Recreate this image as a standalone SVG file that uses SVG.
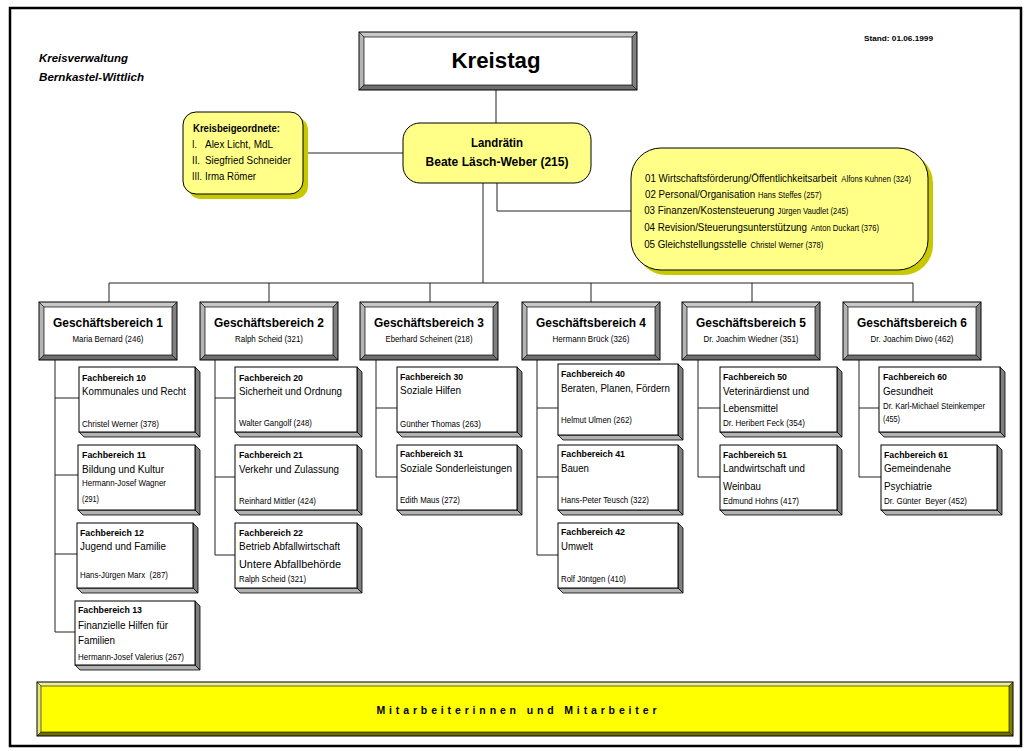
<svg xmlns="http://www.w3.org/2000/svg" xmlns:xlink="http://www.w3.org/1999/xlink" width="1024" height="751" viewBox="0 0 1024 751">
<style>
.ln{stroke:#222;stroke-width:1;fill:none}
.s{font-family:"Liberation Sans",Arial,sans-serif;fill:#000}
.n{font-family:"Liberation Sans Narrow","Arial Narrow","Liberation Sans",Arial,sans-serif;fill:#000}
.st{font-family:"Liberation Sans",Arial,sans-serif;fill:#000}
.b{font-weight:bold}
.c{text-anchor:middle}
.fbt{font-family:"Liberation Sans",Arial,sans-serif;font-weight:bold;font-size:9.5px}
.fbn{font-family:"Liberation Sans Narrow","Arial Narrow","Liberation Sans",Arial,sans-serif;font-size:11.5px}
.fbp{font-family:"Liberation Sans Narrow","Arial Narrow","Liberation Sans",Arial,sans-serif;font-size:9px}
.front{fill:#fff;stroke:#000;stroke-width:1}
.side{fill:#7f7f7f;stroke:#000;stroke-width:0.8}
.bot{fill:#b2b2b2;stroke:#000;stroke-width:0.8}
.yel{fill:#ffff88;stroke:#000;stroke-width:1}
.shd{fill:#c8c800}
</style>
<defs>
<g id="gbbox">
<polygon points="0,0 138,0 133,5 5,5" fill="#c8c8c8"/>
<polygon points="0,0 5,5 5,53 0,58" fill="#b4b4b4"/>
<polygon points="138,0 138,58 133,53 133,5" fill="#808080"/>
<polygon points="0,58 138,58 133,53 5,53" fill="#6e6e6e"/>
<rect x="5" y="5" width="128" height="48" fill="#fff" stroke="#000" stroke-width="0.7"/>
<rect x="0" y="0" width="138" height="58" fill="none" stroke="#000" stroke-width="1"/>
<path d="M0,0L5,5M138,0L133,5M0,58L5,53M138,58L133,53" stroke="#000" stroke-width="0.7"/>
</g>
</defs>

<rect x="10" y="8" width="1011" height="738" fill="#fff" stroke="#000" stroke-width="2.5"/>

<text class="s b" x="39" y="62" font-size="11.5" font-style="italic" textLength="89" lengthAdjust="spacingAndGlyphs">Kreisverwaltung</text>
<text class="s b" x="39" y="81" font-size="11.5" font-style="italic" textLength="105" lengthAdjust="spacingAndGlyphs">Bernkastel-Wittlich</text>
<text class="s b" x="864" y="41" font-size="8" textLength="69" lengthAdjust="spacingAndGlyphs">Stand: 01.06.1999</text>

<g id="connectors">
<path class="ln" d="M496,90V123"/>
<path class="ln" d="M303,153H403"/>
<path class="ln" d="M483,183V283"/>
<path class="ln" d="M497,183V211H631"/>
<path class="ln" d="M109,283H913"/>
<path class="ln" d="M109,283V302M269,283V302M430,283V302M591,283V302M752,283V302M913,283V302"/>
<path class="ln" d="M55,360V632M55,398H79M55,475H78M55,554H77M55,632H75"/>
<path class="ln" d="M215,360V555M215,398H235M215,477H235M215,555H235"/>
<path class="ln" d="M376,360V477M376,408H397M376,477H397"/>
<path class="ln" d="M537,360V555M537,408H558M537,477H558M537,555H558"/>
<path class="ln" d="M698,360V477M698,408H720M698,477H720"/>
<path class="ln" d="M859,360V477M859,408H879M859,477H881"/>
</g>

<g id="kreistag">
<polygon points="359,32 637,32 632,37 364,37" fill="#c8c8c8"/>
<polygon points="359,32 364,37 364,85 359,90" fill="#b4b4b4"/>
<polygon points="637,32 637,90 632,85 632,37" fill="#808080"/>
<polygon points="359,90 637,90 632,85 364,85" fill="#6e6e6e"/>
<rect x="364" y="37" width="268" height="48" fill="#fff" stroke="#000" stroke-width="0.7"/>
<rect x="359" y="32" width="278" height="58" fill="none" stroke="#000"/>
<path d="M359,32L364,37M637,32L632,37M359,90L364,85M637,90L632,85" stroke="#000" stroke-width="0.7"/>
<text class="s b c" x="496" y="68" font-size="22" textLength="89" lengthAdjust="spacingAndGlyphs">Kreistag</text>
</g>

<g id="kreisbeigeordnete">
<rect class="shd" x="188" y="117" width="120" height="82" rx="13"/>
<rect class="yel" x="183" y="112" width="120" height="82" rx="13"/>
<text class="n b" x="193" y="132" font-size="10.5" textLength="87" lengthAdjust="spacingAndGlyphs">Kreisbeigeordnete:</text>
<text class="n" x="192" y="148" font-size="11" textLength="5" lengthAdjust="spacingAndGlyphs">I.</text>
<text class="n" x="205" y="148" font-size="11" textLength="68" lengthAdjust="spacingAndGlyphs">Alex Licht, MdL</text>
<text class="n" x="192" y="164" font-size="11" textLength="8" lengthAdjust="spacingAndGlyphs">II.</text>
<text class="n" x="205" y="164" font-size="11" textLength="86" lengthAdjust="spacingAndGlyphs">Siegfried Schneider</text>
<text class="n" x="192" y="180" font-size="11" textLength="10" lengthAdjust="spacingAndGlyphs">III.</text>
<text class="n" x="205" y="180" font-size="11" textLength="51" lengthAdjust="spacingAndGlyphs">Irma Römer</text>
</g>

<g id="landraetin">
<rect class="yel" x="403" y="123" width="188" height="60" rx="17"/>
<text class="s b c" x="497" y="147" font-size="12.5" textLength="52" lengthAdjust="spacingAndGlyphs">Landrätin</text>
<text class="s b c" x="497" y="166" font-size="12.5" textLength="143" lengthAdjust="spacingAndGlyphs">Beate Läsch-Weber (215)</text>
</g>

<g id="stab">
<rect class="shd" x="636" y="153" width="297" height="122" rx="30"/>
<rect class="yel" x="631" y="148" width="297" height="122" rx="30"/>
<g transform="translate(645,0) scale(0.85,1)">
<text class="st" x="0" y="182" font-size="11.5">01 Wirtschaftsförderung/Öffentlichkeitsarbeit</text>
<text class="st" x="231" y="182" font-size="9">Alfons Kuhnen (324)</text>
<text class="st" x="0" y="198" font-size="11.5">02 Personal/Organisation</text>
<text class="st" x="133" y="198" font-size="9">Hans Steffes (257)</text>
<text class="st" x="-1" y="214" font-size="11.5">03 Finanzen/Kostensteuerung</text>
<text class="st" x="156" y="214" font-size="9">Jürgen Vaudlet (245)</text>
<text class="st" x="-1" y="231" font-size="11.5">04 Revision/Steuerungsunterstützung</text>
<text class="st" x="195" y="231" font-size="9">Anton Duckart (376)</text>
<text class="st" x="-1" y="248" font-size="11.5">05 Gleichstellungsstelle</text>
<text class="st" x="124" y="248" font-size="9">Christel Werner (378)</text>
</g>
</g>

<g id="gb1"><use xlink:href="#gbbox" x="39" y="302"/>
<text class="s b c" x="108" y="327" font-size="12" textLength="110" lengthAdjust="spacingAndGlyphs">Geschäftsbereich 1</text>
<text class="n c" x="108" y="342" font-size="9.5" textLength="71" lengthAdjust="spacingAndGlyphs">Maria Bernard (246)</text></g>
<g id="gb2"><use xlink:href="#gbbox" x="200" y="302"/>
<text class="s b c" x="269" y="327" font-size="12" textLength="110" lengthAdjust="spacingAndGlyphs">Geschäftsbereich 2</text>
<text class="n c" x="269" y="342" font-size="9.5" textLength="68" lengthAdjust="spacingAndGlyphs">Ralph Scheid (321)</text></g>
<g id="gb3"><use xlink:href="#gbbox" x="360" y="302"/>
<text class="s b c" x="429" y="327" font-size="12" textLength="110" lengthAdjust="spacingAndGlyphs">Geschäftsbereich 3</text>
<text class="n c" x="429" y="342" font-size="9.5" textLength="87" lengthAdjust="spacingAndGlyphs">Eberhard Scheinert (218)</text></g>
<g id="gb4"><use xlink:href="#gbbox" x="522" y="302"/>
<text class="s b c" x="591" y="327" font-size="12" textLength="110" lengthAdjust="spacingAndGlyphs">Geschäftsbereich 4</text>
<text class="n c" x="591" y="342" font-size="9.5" textLength="77" lengthAdjust="spacingAndGlyphs">Hermann Brück (326)</text></g>
<g id="gb5"><use xlink:href="#gbbox" x="682" y="302"/>
<text class="s b c" x="751" y="327" font-size="12" textLength="110" lengthAdjust="spacingAndGlyphs">Geschäftsbereich 5</text>
<text class="n c" x="751" y="342" font-size="9.5" textLength="95" lengthAdjust="spacingAndGlyphs">Dr. Joachim Wiedner (351)</text></g>
<g id="gb6"><use xlink:href="#gbbox" x="843" y="302"/>
<text class="s b c" x="912" y="327" font-size="12" textLength="110" lengthAdjust="spacingAndGlyphs">Geschäftsbereich 6</text>
<text class="n c" x="912" y="342" font-size="9.5" textLength="83" lengthAdjust="spacingAndGlyphs">Dr. Joachim Diwo (462)</text></g>

<g id="fb10">
<polygon class="side" points="195,367 200,372 200,437 195,432"/><polygon class="bot" points="79,432 195,432 200,437 84,437"/><rect class="front" x="79" y="367" width="116" height="65"/>
<text class="fbt" x="82" y="381" textLength="64" lengthAdjust="spacingAndGlyphs">Fachbereich 10</text>
<text class="fbn" x="82" y="395" textLength="104" lengthAdjust="spacingAndGlyphs">Kommunales und Recht</text>
<text class="fbp" x="82" y="427" textLength="77" lengthAdjust="spacingAndGlyphs">Christel Werner (378)</text>
</g>
<g id="fb11">
<polygon class="side" points="195,445 200,450 200,515 195,510"/><polygon class="bot" points="78,510 195,510 200,515 83,515"/><rect class="front" x="78" y="445" width="117" height="65"/>
<text class="fbt" x="82" y="458" textLength="64" lengthAdjust="spacingAndGlyphs">Fachbereich 11</text>
<text class="fbn" x="82" y="473" textLength="82" lengthAdjust="spacingAndGlyphs">Bildung und Kultur</text>
<text class="fbp" x="82" y="486" textLength="84" lengthAdjust="spacingAndGlyphs">Hermann-Josef Wagner</text>
<text class="fbp" x="82" y="502" textLength="17" lengthAdjust="spacingAndGlyphs">(291)</text>
</g>
<g id="fb12">
<polygon class="side" points="193,523 198,528 198,593 193,588"/><polygon class="bot" points="77,588 193,588 198,593 82,593"/><rect class="front" x="77" y="523" width="116" height="65"/>
<text class="fbt" x="80" y="536" textLength="64" lengthAdjust="spacingAndGlyphs">Fachbereich 12</text>
<text class="fbn" x="80" y="550" textLength="86" lengthAdjust="spacingAndGlyphs">Jugend und Familie</text>
<text class="fbp" x="80" y="578" textLength="88" lengthAdjust="spacingAndGlyphs" xml:space="preserve">Hans-Jürgen Marx  (287)</text>
</g>
<g id="fb13">
<polygon class="side" points="195,601 200,606 200,670 195,665"/><polygon class="bot" points="75,665 195,665 200,670 80,670"/><rect class="front" x="75" y="601" width="120" height="64"/>
<text class="fbt" x="78" y="613" textLength="64" lengthAdjust="spacingAndGlyphs">Fachbereich 13</text>
<text class="fbn" x="78" y="629" textLength="90" lengthAdjust="spacingAndGlyphs">Finanzielle Hilfen für</text>
<text class="fbn" x="78" y="644" textLength="37" lengthAdjust="spacingAndGlyphs">Familien</text>
<text class="fbp" x="78" y="660" textLength="106" lengthAdjust="spacingAndGlyphs">Hermann-Josef Valerius (267)</text>
</g>

<g id="fb20">
<polygon class="side" points="357,367 362,372 362,437 357,432"/><polygon class="bot" points="235,432 357,432 362,437 240,437"/><rect class="front" x="235" y="367" width="122" height="65"/>
<text class="fbt" x="239" y="381" textLength="64" lengthAdjust="spacingAndGlyphs">Fachbereich 20</text>
<text class="fbn" x="239" y="395" textLength="103" lengthAdjust="spacingAndGlyphs">Sicherheit und Ordnung</text>
<text class="fbp" x="239" y="426" textLength="73" lengthAdjust="spacingAndGlyphs">Walter Gangolf (248)</text>
</g>
<g id="fb21">
<polygon class="side" points="357,445 362,450 362,515 357,510"/><polygon class="bot" points="235,510 357,510 362,515 240,515"/><rect class="front" x="235" y="445" width="122" height="65"/>
<text class="fbt" x="239" y="458" textLength="64" lengthAdjust="spacingAndGlyphs">Fachbereich 21</text>
<text class="fbn" x="239" y="473" textLength="100" lengthAdjust="spacingAndGlyphs">Verkehr und Zulassung</text>
<text class="fbp" x="239" y="504" textLength="77" lengthAdjust="spacingAndGlyphs">Reinhard Mittler (424)</text>
</g>
<g id="fb22">
<polygon class="side" points="357,523 362,528 362,593 357,588"/><polygon class="bot" points="235,588 357,588 362,593 240,593"/><rect class="front" x="235" y="523" width="122" height="65"/>
<text class="fbt" x="239" y="536" textLength="64" lengthAdjust="spacingAndGlyphs">Fachbereich 22</text>
<text class="fbn" x="239" y="550" textLength="101" lengthAdjust="spacingAndGlyphs">Betrieb Abfallwirtschaft</text>
<text class="fbn" x="239" y="568" textLength="102" lengthAdjust="spacingAndGlyphs">Untere Abfallbehörde</text>
<text class="fbp" x="239" y="582" textLength="67" lengthAdjust="spacingAndGlyphs">Ralph Scheid (321)</text>
</g>

<g id="fb30">
<polygon class="side" points="517,367 522,372 522,437 517,432"/><polygon class="bot" points="397,432 517,432 522,437 402,437"/><rect class="front" x="397" y="367" width="120" height="65"/>
<text class="fbt" x="400" y="380" textLength="63" lengthAdjust="spacingAndGlyphs">Fachbereich 30</text>
<text class="fbn" x="400" y="394" textLength="61" lengthAdjust="spacingAndGlyphs">Soziale Hilfen</text>
<text class="fbp" x="400" y="427" textLength="81" lengthAdjust="spacingAndGlyphs">Günther Thomas (263)</text>
</g>
<g id="fb31">
<polygon class="side" points="517,445 522,450 522,515 517,510"/><polygon class="bot" points="397,510 517,510 522,515 402,515"/><rect class="front" x="397" y="445" width="120" height="65"/>
<text class="fbt" x="400" y="457" textLength="63" lengthAdjust="spacingAndGlyphs">Fachbereich 31</text>
<text class="fbn" x="400" y="472" textLength="112" lengthAdjust="spacingAndGlyphs">Soziale Sonderleistungen</text>
<text class="fbp" x="400" y="503" textLength="60" lengthAdjust="spacingAndGlyphs">Edith Maus (272)</text>
</g>

<g id="fb40">
<polygon class="side" points="678,364 683,369 683,440 678,435"/><polygon class="bot" points="558,435 678,435 683,440 563,440"/><rect class="front" x="558" y="364" width="120" height="71"/>
<text class="fbt" x="561" y="377" textLength="64" lengthAdjust="spacingAndGlyphs">Fachbereich 40</text>
<text class="fbn" x="561" y="392" textLength="109" lengthAdjust="spacingAndGlyphs">Beraten, Planen, Fördern</text>
<text class="fbp" x="561" y="423" textLength="71" lengthAdjust="spacingAndGlyphs">Helmut Ulmen (262)</text>
</g>
<g id="fb41">
<polygon class="side" points="678,445 683,450 683,515 678,510"/><polygon class="bot" points="558,510 678,510 683,515 563,515"/><rect class="front" x="558" y="445" width="120" height="65"/>
<text class="fbt" x="561" y="457" textLength="64" lengthAdjust="spacingAndGlyphs">Fachbereich 41</text>
<text class="fbn" x="561" y="472" textLength="28" lengthAdjust="spacingAndGlyphs">Bauen</text>
<text class="fbp" x="561" y="503" textLength="88" lengthAdjust="spacingAndGlyphs">Hans-Peter Teusch (322)</text>
</g>
<g id="fb42">
<polygon class="side" points="678,523 683,528 683,593 678,588"/><polygon class="bot" points="558,588 678,588 683,593 563,593"/><rect class="front" x="558" y="523" width="120" height="65"/>
<text class="fbt" x="561" y="535" textLength="64" lengthAdjust="spacingAndGlyphs">Fachbereich 42</text>
<text class="fbn" x="561" y="550" textLength="32" lengthAdjust="spacingAndGlyphs">Umwelt</text>
<text class="fbp" x="561" y="582" textLength="65" lengthAdjust="spacingAndGlyphs">Rolf Jöntgen (410)</text>
</g>

<g id="fb50">
<polygon class="side" points="837,367 842,372 842,437 837,432"/><polygon class="bot" points="720,432 837,432 842,437 725,437"/><rect class="front" x="720" y="367" width="117" height="65"/>
<text class="fbt" x="723" y="380" textLength="64" lengthAdjust="spacingAndGlyphs">Fachbereich 50</text>
<text class="fbn" x="723" y="395" textLength="86" lengthAdjust="spacingAndGlyphs">Veterinärdienst und</text>
<text class="fbn" x="723" y="412" textLength="55" lengthAdjust="spacingAndGlyphs">Lebensmittel</text>
<text class="fbp" x="723" y="426" textLength="82" lengthAdjust="spacingAndGlyphs">Dr. Heribert Feck (354)</text>
</g>
<g id="fb51">
<polygon class="side" points="837,445 842,450 842,515 837,510"/><polygon class="bot" points="720,510 837,510 842,515 725,515"/><rect class="front" x="720" y="445" width="117" height="65"/>
<text class="fbt" x="723" y="458" textLength="64" lengthAdjust="spacingAndGlyphs">Fachbereich 51</text>
<text class="fbn" x="723" y="472" textLength="82" lengthAdjust="spacingAndGlyphs">Landwirtschaft und</text>
<text class="fbn" x="723" y="490" textLength="38" lengthAdjust="spacingAndGlyphs">Weinbau</text>
<text class="fbp" x="723" y="504" textLength="76" lengthAdjust="spacingAndGlyphs">Edmund Hohns (417)</text>
</g>

<g id="fb60">
<polygon class="side" points="1000,367 1005,372 1005,437 1000,432"/><polygon class="bot" points="879,432 1000,432 1005,437 884,437"/><rect class="front" x="879" y="367" width="121" height="65"/>
<text class="fbt" x="883" y="380" textLength="64" lengthAdjust="spacingAndGlyphs">Fachbereich 60</text>
<text class="fbn" x="883" y="395" textLength="50" lengthAdjust="spacingAndGlyphs">Gesundheit</text>
<text class="fbp" x="883" y="409" textLength="102" lengthAdjust="spacingAndGlyphs">Dr. Karl-Michael Steinkemper</text>
<text class="fbp" x="883" y="422" textLength="17" lengthAdjust="spacingAndGlyphs">(455)</text>
</g>
<g id="fb61">
<polygon class="side" points="997,445 1002,450 1002,515 997,510"/><polygon class="bot" points="881,510 997,510 1002,515 886,515"/><rect class="front" x="881" y="445" width="116" height="65"/>
<text class="fbt" x="884" y="458" textLength="64" lengthAdjust="spacingAndGlyphs">Fachbereich 61</text>
<text class="fbn" x="884" y="472" textLength="67" lengthAdjust="spacingAndGlyphs">Gemeindenahe</text>
<text class="fbn" x="884" y="490" textLength="48" lengthAdjust="spacingAndGlyphs">Psychiatrie</text>
<text class="fbp" x="884" y="504" textLength="83" lengthAdjust="spacingAndGlyphs" xml:space="preserve">Dr. Günter  Beyer (452)</text>
</g>

<g id="mitarbeiter">
<polygon points="37,682 1013,682 1009,686 41,686" fill="#eeee99"/>
<polygon points="37,682 41,686 41,732 37,736" fill="#e6e680"/>
<polygon points="1013,682 1013,736 1009,732 1009,686" fill="#808000"/>
<polygon points="37,736 1013,736 1009,732 41,732" fill="#6e6e00"/>
<rect x="41" y="686" width="968" height="46" fill="#ffff00" stroke="#000" stroke-width="0.6"/>
<rect x="37" y="682" width="976" height="54" fill="none" stroke="#000"/>
<path d="M37,682L41,686M1013,682L1009,686M37,736L41,732M1013,736L1009,732" stroke="#000" stroke-width="0.6"/>
<text class="n b c" x="518" y="714" font-size="10.5" letter-spacing="3" textLength="283" lengthAdjust="spacing">Mitarbeiterinnen und Mitarbeiter</text>
</g>
</svg>
